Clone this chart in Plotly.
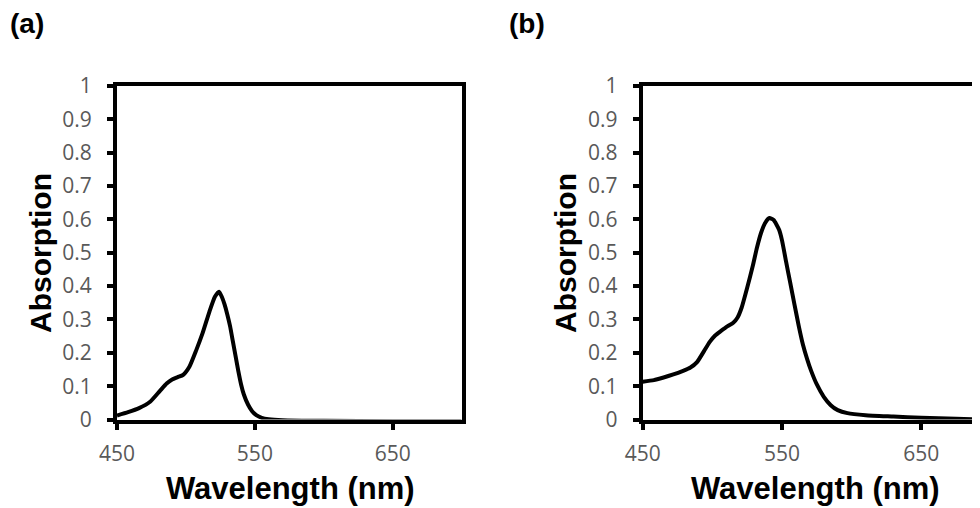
import plotly.graph_objects as go

# Panel (a) spectrum
wl_a = [450, 458, 466, 474, 481, 486, 490, 494, 498, 502.5, 507.5, 512, 517, 521, 524,
        526, 528, 530, 532, 534, 536, 538, 540, 542, 545, 548, 551, 555, 560, 570, 600, 650, 700]
abs_a = [0.012, 0.022, 0.034, 0.053, 0.085, 0.108, 0.120, 0.127, 0.134, 0.158, 0.208, 0.258, 0.323, 0.368, 0.383,
         0.368, 0.345, 0.315, 0.280, 0.235, 0.190, 0.145, 0.105, 0.075, 0.045, 0.025, 0.013, 0.005, 0.001, -0.002, -0.004, -0.005, -0.005]

# Panel (b) spectrum
wl_b = [450, 458, 465, 472, 479, 484, 489, 494, 498, 502, 506, 511, 515, 518, 521, 525, 529, 532, 535, 538,
        541, 544, 546, 548, 550, 553, 556, 559, 562, 565, 568, 571, 575, 580, 585, 590, 597, 610, 630, 650, 675, 700]
abs_b = [0.113, 0.118, 0.126, 0.135, 0.146, 0.155, 0.172, 0.205, 0.232, 0.252, 0.265, 0.280, 0.290, 0.305, 0.335,
         0.395, 0.460, 0.515, 0.560, 0.590, 0.604, 0.598, 0.585, 0.568, 0.537, 0.472, 0.408, 0.344, 0.281, 0.225,
         0.182, 0.145, 0.105, 0.068, 0.043, 0.028, 0.019, 0.013, 0.009, 0.005, 0.002, 0.000]

x_ticks = [450, 550, 650]
panel_labels = ["(a)", "(b)"]
x_title = "Wavelength (nm)"
y_title = "Absorption"

W, H = 980, 508
OFF = 8  # page body margin

def px(p):
    return (p - OFF) / W

def py(p):
    return 1 - (p - OFF) / H

fig = go.Figure()
for xs, ys, xa, ya in [(wl_a, abs_a, "x", "y"), (wl_b, abs_b, "x2", "y2")]:
    fig.add_trace(go.Scatter(x=xs, y=ys, mode="lines", xaxis=xa, yaxis=ya,
                             line=dict(color="black", width=4, shape="spline", smoothing=0.5),
                             showlegend=False, hoverinfo="skip"))

tickfont = dict(family="Open Sans", size=21, color="#595959")

def xax(domain, rng, anchor):
    return dict(domain=domain, range=rng, anchor=anchor, tickvals=x_ticks,
                ticks="outside", ticklen=6, tickwidth=4, tickcolor="black",
                showline=True, linewidth=4, linecolor="black", mirror=True,
                showgrid=False, zeroline=False, tickfont=tickfont, fixedrange=True,
                ticklabelstandoff=6)

def yax(domain, anchor, mirror):
    return dict(domain=domain, range=[0, 1], anchor=anchor, dtick=0.1, tick0=0,
                ticks="outside", ticklen=6, tickwidth=4, tickcolor="black",
                showline=True, linewidth=4, linecolor="black", mirror=mirror,
                showgrid=False, zeroline=False, tickfont=tickfont, fixedrange=True,
                ticklabelstandoff=11)

ydom = [py(419.5), py(86)]
xb_right_nm = 450 + (W + OFF - 642.7) / 1.393

fig.update_layout(
    width=W, height=H, margin=dict(l=0, r=0, t=0, b=0, autoexpand=False),
    paper_bgcolor="white", plot_bgcolor="white",
    xaxis=xax([px(117), px(461.7)], [450, 700], "y"),
    yaxis=yax(ydom, "x", True),
    xaxis2=xax([px(642.7), 1.0], [450, xb_right_nm], "y2"),
    yaxis2=yax(ydom, "x2", False),
)

lab_font = dict(family="Liberation Sans", size=28, color="black")
ann = []
for cx, t in zip([27, 527], panel_labels):
    ann.append(dict(x=px(cx), y=py(24), text="<b>%s</b>" % t, showarrow=False,
                    xref="paper", yref="paper", xanchor="center", yanchor="middle", font=lab_font))
for cx in [290, 815]:
    ann.append(dict(x=px(cx), y=py(488), text="<b>%s</b>" % x_title, showarrow=False,
                    xref="paper", yref="paper", xanchor="center", yanchor="middle",
                    font=dict(family="Liberation Sans", size=31, color="black")))
for cx in [40, 565]:
    ann.append(dict(x=px(cx), y=py(253), text="<b>%s</b>" % y_title, showarrow=False, textangle=-90,
                    xref="paper", yref="paper", xanchor="center", yanchor="middle",
                    font=dict(family="Liberation Sans", size=30, color="black")))
fig.update_layout(annotations=ann)

fig.write_html("out.html")
